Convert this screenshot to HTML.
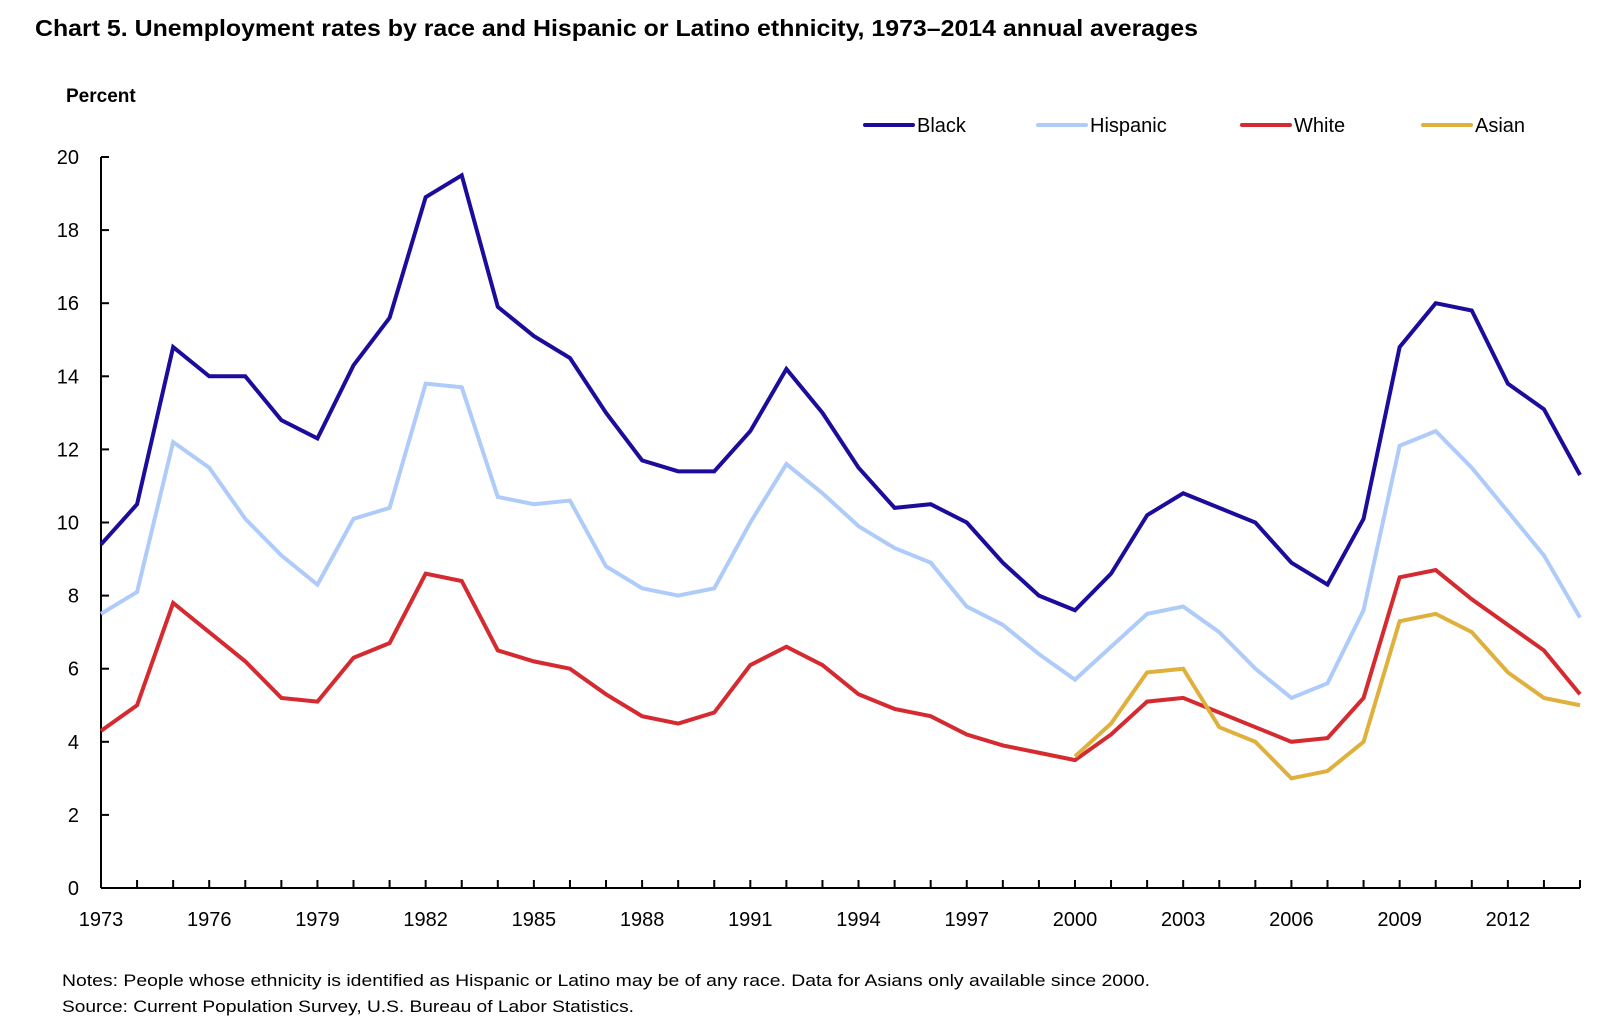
<!DOCTYPE html>
<html><head><meta charset="utf-8"><style>
body{margin:0;background:#fff;}
svg text{font-family:"Liberation Sans",sans-serif;fill:#000;}
</style></head><body>
<svg id="chart" width="1623" height="1029" xmlns="http://www.w3.org/2000/svg">
<text x="35" y="36" font-size="23" font-weight="bold" textLength="1163" lengthAdjust="spacingAndGlyphs">Chart 5. Unemployment rates by race and Hispanic or Latino ethnicity, 1973–2014 annual averages</text>
<text x="66" y="102" font-size="19" font-weight="bold">Percent</text>
<g id="legend"></g>
<g id="axes"></g>
<g id="series"></g>
<text x="62" y="986" font-size="17" textLength="1088" lengthAdjust="spacingAndGlyphs">Notes: People whose ethnicity is identified as Hispanic or Latino may be of any race. Data for Asians only available since 2000.</text>
<text x="62" y="1012" font-size="17" textLength="572" lengthAdjust="spacingAndGlyphs">Source: Current Population Survey, U.S. Bureau of Labor Statistics.</text>
</svg>
<script>
const years=[1973,1974,1975,1976,1977,1978,1979,1980,1981,1982,1983,1984,1985,1986,1987,1988,1989,1990,1991,1992,1993,1994,1995,1996,1997,1998,1999,2000,2001,2002,2003,2004,2005,2006,2007,2008,2009,2010,2011,2012,2013,2014];
const black=[9.4,10.5,14.8,14.0,14.0,12.8,12.3,14.3,15.6,18.9,19.5,15.9,15.1,14.5,13.0,11.7,11.4,11.4,12.5,14.2,13.0,11.5,10.4,10.5,10.0,8.9,8.0,7.6,8.6,10.2,10.8,10.4,10.0,8.9,8.3,10.1,14.8,16.0,15.8,13.8,13.1,11.3];
const hispanic=[7.5,8.1,12.2,11.5,10.1,9.1,8.3,10.1,10.4,13.8,13.7,10.7,10.5,10.6,8.8,8.2,8.0,8.2,10.0,11.6,10.8,9.9,9.3,8.9,7.7,7.2,6.4,5.7,6.6,7.5,7.7,7.0,6.0,5.2,5.6,7.6,12.1,12.5,11.5,10.3,9.1,7.4];
const white=[4.3,5.0,7.8,7.0,6.2,5.2,5.1,6.3,6.7,8.6,8.4,6.5,6.2,6.0,5.3,4.7,4.5,4.8,6.1,6.6,6.1,5.3,4.9,4.7,4.2,3.9,3.7,3.5,4.2,5.1,5.2,4.8,4.4,4.0,4.1,5.2,8.5,8.7,7.9,7.2,6.5,5.3];
const asianYears=[2000,2001,2002,2003,2004,2005,2006,2007,2008,2009,2010,2011,2012,2013,2014];
const asian=[3.6,4.5,5.9,6.0,4.4,4.0,3.0,3.2,4.0,7.3,7.5,7.0,5.9,5.2,5.0];
const yTicks=[0,2,4,6,8,10,12,14,16,18,20];
const xLabelYears=[1973,1976,1979,1982,1985,1988,1991,1994,1997,2000,2003,2006,2009,2012];

const NS='http://www.w3.org/2000/svg';
const X0=101,X1=1580,Y0=888,Y1=157;
const x=yr=>X0+(yr-1973)*(X1-X0)/41;
const y=v=>Y0-v*(Y0-Y1)/20;
function mk(tag,attrs,parent){const e=document.createElementNS(NS,tag);for(const k in attrs)e.setAttribute(k,attrs[k]);parent.appendChild(e);return e;}
const axes=document.getElementById('axes'),ser=document.getElementById('series'),leg=document.getElementById('legend');
let e=mk('line',{x1:X0,y1:Y0,x2:X0,y2:Y1,stroke:'#000','stroke-width':2},axes);


e=mk('line',{x1:X0,y1:Y0,x2:X1,y2:Y0,stroke:'#000','stroke-width':2},axes);


yTicks.forEach(v=>{
  let t=mk('line',{x1:X0,y1:y(v),x2:X0+8,y2:y(v),stroke:'#000','stroke-width':2},axes);
  
  
  let l=mk('text',{x:79,y:y(v)+7,'font-size':20,'text-anchor':'end'},axes);l.textContent=v;
  
  
});
years.forEach(yr=>{
  let t=mk('line',{x1:x(yr),y1:Y0,x2:x(yr),y2:Y0-8,stroke:'#000','stroke-width':2},axes);
  
  
});
xLabelYears.forEach(yr=>{
  let l=mk('text',{x:x(yr),y:926,'font-size':20,'text-anchor':'middle'},axes);l.textContent=yr;
  
  
});
function line(xs,vals,color,name){
  const p=mk('polyline',{points:vals.map((v,i)=>x(xs[i])+','+y(v)).join(' '),fill:'none',stroke:color,'stroke-width':4,'stroke-linejoin':'miter'},ser);
  
  
}
line(years,white,'#d42a30','white-line');
line(asianYears,asian,'#e0b03c','asian-line');
line(years,hispanic,'#aecbfa','hispanic-line');
line(years,black,'#1b0c9c','black-line');
[['Black','#1b0c9c',865],['Hispanic','#aecbfa',1038],['White','#d42a30',1242],['Asian','#e0b03c',1423]].forEach(([n,c,lx])=>{
  let s=mk('line',{x1:lx,y1:125,x2:lx+48,y2:125,stroke:c,'stroke-width':4,'stroke-linecap':'round'},leg);
  
  
  let t=mk('text',{x:lx+52,y:132,'font-size':20},leg);t.textContent=n;
  
  
});
</script>
</body></html>
